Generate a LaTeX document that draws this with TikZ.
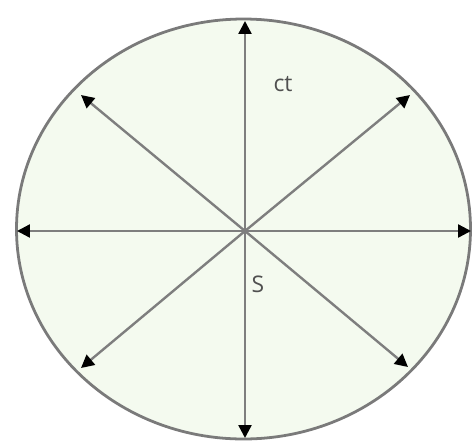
\documentclass[tikz,border=0pt]{standalone}
\usepackage{fontspec}
\setmainfont{Open Sans}
\usetikzlibrary{arrows.meta}
\definecolor{cDisc}{HTML}{F4FAEF}
\definecolor{cRim}{HTML}{7A7A7A}
\definecolor{cRay}{HTML}{7E7E7E}
\definecolor{cText}{HTML}{505050}
\tikzset{
  rim/.style={draw=cRim,line width=2.8pt,fill=cDisc},
  ray/.style={draw=cRay,line width=2.4pt,-{Triangle[length=13pt,width=13pt,color=black]}},
  lbl/.style={font=\fontsize{23}{25}\selectfont,text=cText,inner sep=0pt},
}
\begin{document}
\begin{tikzpicture}[x=0.0353cm,y=-0.0353cm]
  \useasboundingbox (0,0) rectangle (476,441);
  \draw[rim] (243.5,229) ellipse (227 and 210);
  \coordinate (o) at (245,231);
  % tips of the rays on the rim
  \coordinate (n) at (245,21);
  \coordinate (s) at (245,438);
  \coordinate (w) at (17,231);
  \coordinate (e) at (471,231);
  \coordinate (nw) at (81,95);
  \coordinate (ne) at (410,95);
  \coordinate (sw) at (81,368);
  \coordinate (se) at (408,367);
  \foreach \t in {n,s,w,e,nw,ne,sw,se}
    \draw[ray] (o) -- (\t);
  \node[lbl] (ct) at (283,84) {ct};
  \node[lbl] (S) at (258,284) {S};
\end{tikzpicture}
\end{document}
